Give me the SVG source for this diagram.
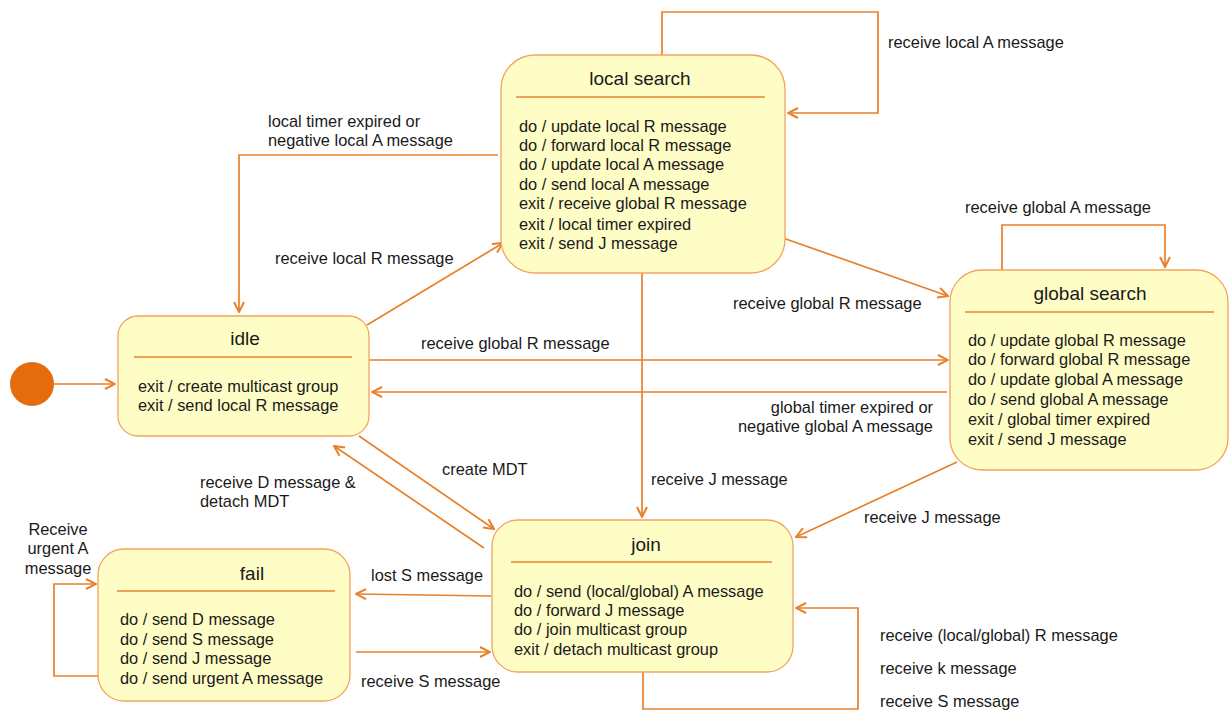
<svg xmlns="http://www.w3.org/2000/svg" width="1229" height="711" viewBox="0 0 1229 711">
  <style>
    .state { fill: #FFFDC6; stroke: #F2A45C; stroke-width: 1.3; }
    .divider { stroke: #E8842E; stroke-width: 1.6; }
    .edge { fill: none; stroke: #E8802A; stroke-width: 1.7; }
    .title { font-family: "Liberation Sans", Arial, sans-serif; font-size: 19px; fill: #1a1a1a; text-anchor: middle; }
    .body { font-family: "Liberation Sans", Arial, sans-serif; font-size: 16.4px; fill: #1a1a1a; }
    .label { font-family: "Liberation Sans", Arial, sans-serif; font-size: 16.4px; fill: #1a1a1a; }
  </style>
  <defs>
    <marker id="arrow" viewBox="0 0 12 12" refX="11" refY="6" markerWidth="12" markerHeight="12" markerUnits="userSpaceOnUse" orient="auto">
      <path d="M1,1 L11,6 L1,11" fill="none" stroke="#E8802A" stroke-width="2"/>
    </marker>
  </defs>
  <rect width="1229" height="711" fill="#FFFFFF"/>

  <!-- transitions -->
  <g id="connectors">
    <!-- initial -> idle -->
    <path class="edge" d="M54,384 L115,384" marker-end="url(#arrow)"/>
    <!-- local search self loop -->
    <path class="edge" d="M662,55 L662,12 L878,12 L878,113 L788,113" marker-end="url(#arrow)"/>
    <text class="label" x="888" y="48">receive local A message</text>
    <!-- local search -> idle -->
    <path class="edge" d="M498,155 L239,155 L239,312" marker-end="url(#arrow)"/>
    <text class="label" x="268" y="127">local timer expired or</text>
    <text class="label" x="268" y="146">negative local A message</text>
    <!-- idle -> local search -->
    <path class="edge" d="M367,325 L503,243" marker-end="url(#arrow)"/>
    <text class="label" x="275" y="264">receive local R message</text>
    <!-- local search -> global search -->
    <path class="edge" d="M783,238 L948,296" marker-end="url(#arrow)"/>
    <text class="label" x="733" y="309">receive global R message</text>
    <!-- global search self loop -->
    <path class="edge" d="M1002,270 L1002,225 L1165,225 L1165,267" marker-end="url(#arrow)"/>
    <text class="label" x="965" y="213">receive global A message</text>
    <!-- idle -> global search -->
    <path class="edge" d="M369,360 L948,360" marker-end="url(#arrow)"/>
    <text class="label" x="421" y="349">receive global R message</text>
    <!-- global search -> idle -->
    <path class="edge" d="M947,392 L372,392" marker-end="url(#arrow)"/>
    <text class="label" x="933" y="413" text-anchor="end">global timer expired or</text>
    <text class="label" x="933" y="432" text-anchor="end">negative global A message</text>
    <!-- local search -> join -->
    <path class="edge" d="M642,273 L642,517" marker-end="url(#arrow)"/>
    <text class="label" x="651" y="485">receive J message</text>
    <!-- global search -> join -->
    <path class="edge" d="M957,462 L796,537" marker-end="url(#arrow)"/>
    <text class="label" x="864" y="523">receive J message</text>
    <!-- idle -> join -->
    <path class="edge" d="M359,436 L494,529" marker-end="url(#arrow)"/>
    <text class="label" x="442" y="475">create MDT</text>
    <!-- join -> idle -->
    <path class="edge" d="M484,548 L334,446" marker-end="url(#arrow)"/>
    <text class="label" x="200" y="488">receive D message &amp;</text>
    <text class="label" x="200" y="507">detach MDT</text>
    <!-- join -> fail -->
    <path class="edge" d="M491,596 L356,594" marker-end="url(#arrow)"/>
    <text class="label" x="371" y="581">lost S message</text>
    <!-- fail -> join -->
    <path class="edge" d="M356,652 L490,652" marker-end="url(#arrow)"/>
    <text class="label" x="361" y="687">receive S message</text>
    <!-- fail self loop -->
    <path class="edge" d="M98,676 L54,676 L54,584 L96,584" marker-end="url(#arrow)"/>
    <text class="label" x="58" y="535" text-anchor="middle">Receive</text>
    <text class="label" x="58" y="554" text-anchor="middle">urgent A</text>
    <text class="label" x="58" y="574" text-anchor="middle">message</text>
    <!-- join self loop -->
    <path class="edge" d="M643,672 L643,709 L858,709 L858,608 L796,608" marker-end="url(#arrow)"/>
    <text class="label" x="880" y="641">receive (local/global) R message</text>
    <text class="label" x="880" y="674">receive k message</text>
    <text class="label" x="880" y="707">receive S message</text>
  </g>

  <!-- initial pseudostate -->
  <g id="initial">
    <circle cx="32" cy="384" r="22" fill="#E46C0A"/>
  </g>

  <g id="local-search">
    <rect class="state" x="501" y="55" width="284" height="218" rx="34"/>
    <text class="title" x="640" y="85">local search</text>
    <line class="divider" x1="516" y1="97" x2="765" y2="97"/>
    <text class="body" x="519" y="132">do / update local R message</text>
    <text class="body" x="519" y="151">do / forward local R message</text>
    <text class="body" x="519" y="170">do / update local A message</text>
    <text class="body" x="519" y="190">do / send local A message</text>
    <text class="body" x="519" y="209">exit / receive global R message</text>
    <text class="body" x="519" y="230">exit / local timer expired</text>
    <text class="body" x="519" y="249">exit / send J message</text>
  </g>

  <g id="global-search">
    <rect class="state" x="950" y="270" width="278" height="200" rx="32"/>
    <text class="title" x="1090" y="300">global search</text>
    <line class="divider" x1="965" y1="312" x2="1214" y2="312"/>
    <text class="body" x="968" y="346">do / update global R message</text>
    <text class="body" x="968" y="365">do / forward global R message</text>
    <text class="body" x="968" y="385">do / update global A message</text>
    <text class="body" x="968" y="405">do / send global A message</text>
    <text class="body" x="968" y="425">exit / global timer expired</text>
    <text class="body" x="968" y="445">exit / send J message</text>
  </g>

  <g id="idle">
    <rect class="state" x="118" y="316" width="251" height="120" rx="20"/>
    <text class="title" x="245" y="345">idle</text>
    <line class="divider" x1="134" y1="357" x2="352" y2="357"/>
    <text class="body" x="138" y="392">exit / create multicast group</text>
    <text class="body" x="138" y="411">exit / send local R message</text>
  </g>

  <g id="fail">
    <rect class="state" x="98" y="549" width="252" height="152" rx="26"/>
    <text class="title" x="252" y="580">fail</text>
    <line class="divider" x1="117" y1="591" x2="335" y2="591"/>
    <text class="body" x="120" y="625">do / send D message</text>
    <text class="body" x="120" y="645">do / send S message</text>
    <text class="body" x="120" y="664">do / send J message</text>
    <text class="body" x="120" y="684">do / send urgent A message</text>
  </g>

  <g id="join">
    <rect class="state" x="492" y="520" width="301" height="152" rx="26"/>
    <text class="title" x="646" y="551">join</text>
    <line class="divider" x1="511" y1="562" x2="772" y2="562"/>
    <text class="body" x="514" y="597">do / send (local/global) A message</text>
    <text class="body" x="514" y="616">do / forward J message</text>
    <text class="body" x="514" y="635">do / join multicast group</text>
    <text class="body" x="514" y="655">exit / detach multicast group</text>
  </g>
</svg>
